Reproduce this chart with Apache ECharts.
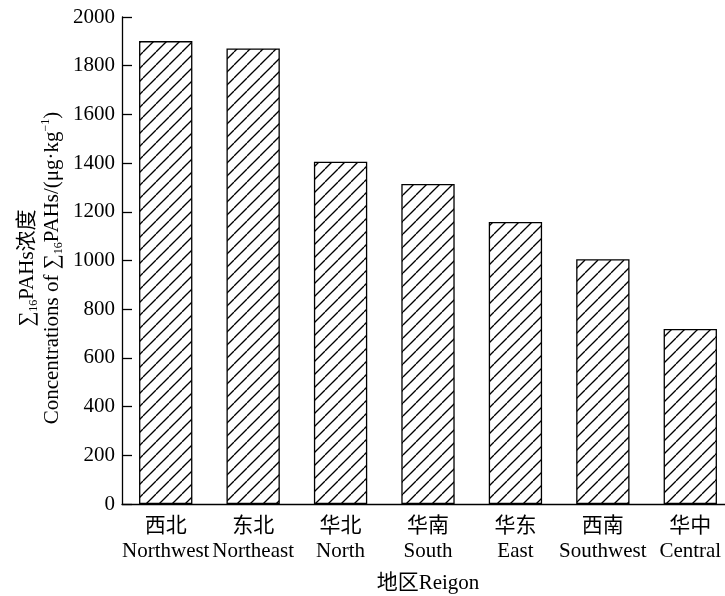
<!DOCTYPE html>
<html>
<head>
<meta charset="utf-8">
<script src="https://cdn.jsdelivr.net/npm/echarts@6/dist/echarts.min.js"></script>
<style>
html,body{margin:0;padding:0;background:#fff;}
#chart{width:725px;height:596px;}
</style>
</head>
<body>
<div id="chart"></div>
<script>
const categoriesCN = ['西北', '东北', '华北', '华南', '华东', '西南', '华中'];
const categoriesEN = ['Northwest', 'Northeast', 'North', 'South', 'East', 'Southwest', 'Central'];
const values = [1901, 1871, 1406, 1314, 1158, 1005, 719];
const yTicks = { min: 0, max: 2000, interval: 200 };

const FONT = "'Liberation Serif', 'Times New Roman', 'Noto Sans CJK SC', serif";

function hatch() {
  const s = 13;
  const c = document.createElement('canvas');
  c.width = s; c.height = s;
  const g = c.getContext('2d');
  g.fillStyle = '#fff';
  g.fillRect(0, 0, s, s);
  g.strokeStyle = '#000';
  g.lineWidth = 1.3;
  for (const k of [-s, 0, s]) {
    g.beginPath();
    g.moveTo(k, s);
    g.lineTo(k + s, 0);
    g.stroke();
  }
  return c;
}

const chart = echarts.init(document.getElementById('chart'), null, { renderer: 'canvas' });
const categories = categoriesCN.map((c, i) => c + '\n' + categoriesEN[i]);

chart.setOption({
  backgroundColor: '#fff',
  animation: false,
  grid: { left: 122, right: -9, top: 17, bottom: 92, containLabel: false, outerBoundsMode: 'none' },
  graphic: [{
    type: 'text',
    x: 40,
    y: 268,
    rotation: Math.PI / 2,
    style: {
      text: '{a|∑}{sub|16}{a|PAHs浓度}\n{a|Concentrations of ∑}{sub|16}{a|PAHs/(μg·kg}{sup|−1}{a|)}',
      align: 'center',
      verticalAlign: 'middle',
      fill: '#000',
      font: "21px " + FONT,
      lineHeight: 25,
      rich: {
        a: { fontFamily: FONT, fontSize: 21, lineHeight: 25, fill: '#000', verticalAlign: 'middle' },
        sub: { fontFamily: FONT, fontSize: 12, lineHeight: 25, fill: '#000', verticalAlign: 'bottom' },
        sup: { fontFamily: FONT, fontSize: 12, lineHeight: 25, fill: '#000', verticalAlign: 'top' }
      }
    }
  }],
  xAxis: {
    type: 'category',
    data: categories,
    axisLine: { lineStyle: { color: '#000', width: 1.3 } },
    axisTick: { show: false },
    axisLabel: {
      color: '#000', fontFamily: FONT, fontSize: 21, lineHeight: 25, margin: 10, interval: 0
    },
    name: '地区Reigon',
    nameLocation: 'middle',
    nameGap: 69,
    nameTextStyle: { color: '#000', fontFamily: FONT, fontSize: 21 }
  },
  yAxis: {
    type: 'value',
    min: yTicks.min, max: yTicks.max, interval: yTicks.interval,
    axisLine: { show: true, lineStyle: { color: '#000', width: 1.3 } },
    axisTick: { show: true, inside: true, length: 10, lineStyle: { color: '#000', width: 1.3 } },
    splitLine: { show: false },
    axisLabel: { color: '#000', fontFamily: FONT, fontSize: 21, margin: 7, formatter: v => String(v) }
  },
  series: [{
    type: 'bar',
    data: values,
    barCategoryGap: '39%',
    itemStyle: {
      color: { image: hatch(), repeat: 'repeat' },
      borderColor: '#000',
      borderWidth: 1.3
    }
  }]
});
</script>
</body>
</html>
